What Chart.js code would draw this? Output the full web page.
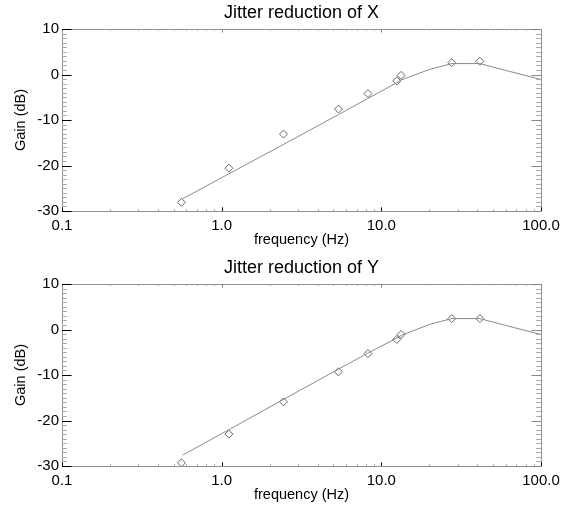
<!DOCTYPE html>
<html>
<head>
<meta charset="utf-8">
<script src="https://cdn.jsdelivr.net/npm/chart.js@4.4.1/dist/chart.umd.min.js"></script>
<style>
  html, body { margin: 0; padding: 0; background: #fff; }
  canvas { display: block; }
</style>
</head>
<body>
<canvas id="jitterX" width="568" height="255"></canvas>
<canvas id="jitterY" width="568" height="250"></canvas>
<script>
// measured points (Hz, dB)
const measFreq = [0.56, 1.11, 2.44, 5.39, 8.25, 12.5, 13.3, 27.6, 41.4];
const measGainX = [-28.1, -20.6, -13.1, -7.6, -4.2, -1.4, -0.2, 2.6, 2.9];
const measGainY = [-29.3, -23.0, -15.9, -9.3, -5.3, -2.2, -1.1, 2.4, 2.4];

// model response curve
const modelFreq = [0.57, 1.1, 2.4, 5.4, 8.2, 12.5, 13.3, 20, 27.6, 41.4, 60, 100];
const modelGainX = [-27.3, -21.9, -15.5, -8.8, -5.3, -1.8, -1.2, 1.1, 2.4, 2.4, 0.9, -1.1];
const modelGainY = [-27.6, -22.1, -15.5, -8.7, -5.2, -1.9, -1.3, 1.1, 2.4, 2.4, 0.9, -1.1];

// axis ticks
const xMajor = [0.1, 1, 10, 100];
const xMinor = [2, 3, 4, 5, 6, 7, 8, 9, 20, 30, 40, 50, 60, 70, 80, 90]
  .flatMap((v) => [v / 100, v / 10, v]).filter((v) => v > 0.1 && v < 100);
const yMajor = [-30, -20, -10, 0, 10];

const FONT = "'Liberation Sans', Arial, Helvetica, sans-serif";

const toPoints = (xs, ys) => xs.map((x, i) => ({ x: x, y: ys[i] }));

// title centred over the plot box rather than the whole canvas
const plotTitle = {
  id: "plotTitle",
  afterDraw(chart, args, opts) {
    const { ctx, chartArea: a } = chart;
    ctx.save();
    ctx.fillStyle = "#000";
    ctx.font = "18px " + FONT;
    ctx.textAlign = "center";
    ctx.textBaseline = "middle";
    ctx.fillText(opts.text, (a.left + a.right) / 2, 13);
    ctx.restore();
  },
};

// IDL-style box with inward ticks on all four sides
const frameTicks = {
  id: "frameTicks",
  afterDatasetsDraw(chart) {
    const { ctx, chartArea: a, scales } = chart;
    const xs = scales.x, ys = scales.y;
    const h = a.bottom - a.top, w = a.right - a.left;
    const xLen = 0.02 * h, yLen = 0.02 * w;

    ctx.save();
    ctx.lineWidth = 1;
    ctx.strokeStyle = "#929292";
    ctx.strokeRect(a.left + 0.5, a.top + 0.5, w, h);

    const seg = (x1, y1, x2, y2, color) => {
      ctx.strokeStyle = color;
      ctx.beginPath();
      ctx.moveTo(x1, y1);
      ctx.lineTo(x2, y2);
      ctx.stroke();
    };

    xMinor.forEach((v) => {
      const px = Math.round(xs.getPixelForValue(v)) + 0.5;
      seg(px, a.bottom, px, a.bottom - xLen / 2, "#aaa");
      seg(px, a.top, px, a.top + xLen / 2, "#aaa");
    });
    xMajor.forEach((v) => {
      const px = Math.round(xs.getPixelForValue(v)) + 0.5;
      seg(px, a.bottom, px, a.bottom - xLen, "#000");
      seg(px, a.top, px, a.top + xLen, "#888");
    });

    for (let v = -30; v <= 10; v++) {
      const py = Math.round(ys.getPixelForValue(v)) + 0.5;
      if (v % 10 === 0) {
        seg(a.left, py, a.left + yLen, py, "#000");
        seg(a.right, py, a.right - yLen, py, "#888");
      } else {
        seg(a.left, py, a.left + yLen / 2, py, "#aaa");
        seg(a.right, py, a.right - yLen / 2, py, "#aaa");
      }
    }
    ctx.restore();
  },
};

function makeChart(id, titleText, gains, model, bottomPad) {
  return new Chart(document.getElementById(id), {
    type: "scatter",
    data: {
      datasets: [
        {
          data: toPoints(modelFreq, model),
          showLine: true,
          borderColor: "#8a8a8a",
          borderWidth: 1,
          pointRadius: 0,
          tension: 0,
        },
        {
          data: toPoints(measFreq, gains),
          showLine: false,
          pointStyle: "rectRot",
          pointRadius: 4,
          borderColor: "#666",
          borderWidth: 1,
          backgroundColor: "rgba(255,255,255,0)",
        },
      ],
    },
    options: {
      responsive: false,
      animation: false,
      clip: false,
      layout: { padding: { top: 29, right: 27, bottom: bottomPad, left: 0 } },
      plugins: {
        legend: { display: false },
        tooltip: { enabled: false },
        title: { display: false },
        plotTitle: { text: titleText },
      },
      scales: {
        x: {
          type: "logarithmic",
          min: 0.1,
          max: 100,
          afterBuildTicks: (s) => { s.ticks = xMajor.map((v) => ({ value: v })); },
          afterFit: (s) => { s.height = 39; },
          grid: { display: false, drawTicks: false },
          border: { display: false },
          ticks: {
            autoSkip: false,
            maxRotation: 0,
            padding: 6,
            color: "#000",
            font: { family: FONT, size: 15 },
            callback: (v) => Number(v).toFixed(1),
          },
          title: {
            display: true,
            text: "frequency (Hz)",
            color: "#000",
            font: { family: FONT, size: 14.5 },
            padding: { top: 0, bottom: 1 },
          },
        },
        y: {
          min: -30,
          max: 10,
          afterBuildTicks: (s) => { s.ticks = yMajor.map((v) => ({ value: v })); },
          afterFit: (s) => { s.width = 62; },
          grid: { display: false, drawTicks: false },
          border: { display: false },
          ticks: {
            autoSkip: false,
            padding: 3,
            color: "#000",
            font: { family: FONT, size: 15 },
          },
          title: {
            display: true,
            text: "Gain (dB)",
            color: "#000",
            font: { family: FONT, size: 14.5 },
            padding: { top: 12, bottom: 0 },
          },
        },
      },
    },
    plugins: [frameTicks, plotTitle],
  });
}

makeChart("jitterX", "Jitter reduction of X", measGainX, modelGainX, 5);
makeChart("jitterY", "Jitter reduction of Y", measGainY, modelGainY, 0);
</script>
</body>
</html>
